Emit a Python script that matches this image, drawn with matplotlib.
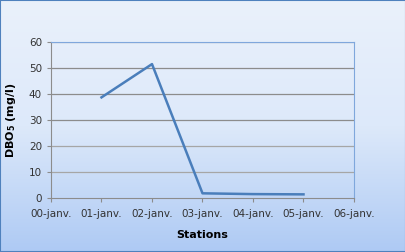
import matplotlib
matplotlib.use("Agg")
import matplotlib.pyplot as plt
import numpy as np
from matplotlib.colors import LinearSegmentedColormap

tick_labels = ["00-janv.", "01-janv.", "02-janv.", "03-janv.", "04-janv.", "05-janv.", "06-janv."]
stations = [1, 2, 3, 4, 5]
dbo5 = [38.7, 51.5, 1.8, 1.5, 1.4]

fig = plt.figure(figsize=(4.06, 2.52), dpi=100)

# background gradient
bg = fig.add_axes([0, 0, 1, 1], zorder=-10)
cmap = LinearSegmentedColormap.from_list("bg", ["#eaf1fb", "#dde9fa", "#aecaf4"])
grad = np.linspace(0, 1, 256).reshape(-1, 1)
bg.imshow(grad, aspect="auto", cmap=cmap, extent=[0, 1, 0, 1], origin="upper")
bg.set_xlim(0, 1); bg.set_ylim(0, 1)
bg.axis("off")
bg.plot([0.001, 0.001, 0.999, 0.999, 0.001], [0.001, 0.999, 0.999, 0.001, 0.001],
        color="#4f81bd", lw=1.5, transform=bg.transAxes, clip_on=False)

ax = fig.add_axes([51/406, 1-198/252, (354-51)/406, (198-42)/252])
ax.patch.set_alpha(0)
ax.plot(stations, dbo5, color="#4a7ebb", lw=1.8, zorder=3)
ax.set_xlim(0, 6)
ax.set_ylim(0, 60)
ax.set_xticks(range(7))
ax.set_xticklabels(tick_labels)
ax.set_yticks(range(0, 61, 10))
for y in range(10, 61, 10):
    ax.axhline(y, color="#8c8c8c" if y in (30, 40, 50) else "#a6a6a6", lw=0.9, zorder=1)
for s in ["top", "right"]:
    ax.spines[s].set_color("#7fa7dc")
    ax.spines[s].set_linewidth(0.8)
ax.spines["left"].set_color("#8c8c8c")
ax.spines["bottom"].set_color("#8c8c8c")
ax.tick_params(axis="both", labelsize=7.5, colors="#8c8c8c", length=3, width=0.8, direction="out")
ax.tick_params(axis="x", pad=5, labelcolor="#333333")
ax.tick_params(axis="y", labelcolor="#333333")
ax.set_xlabel("Stations", fontsize=8, fontweight="bold", labelpad=8)
ax.set_ylabel(r"DBO$_\mathbf{5}$ (mg/l)", fontsize=8, fontweight="bold", labelpad=8)

fig.savefig("out.png", dpi=100)
